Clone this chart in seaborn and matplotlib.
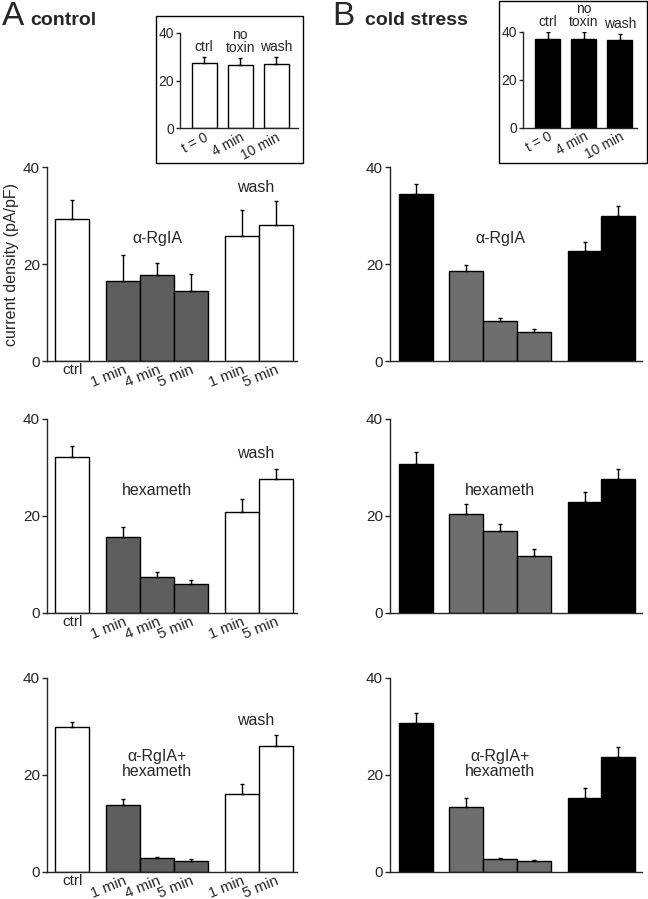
import matplotlib
matplotlib.use("Agg")
import matplotlib.pyplot as plt
from matplotlib.patches import Rectangle
import seaborn as sns
import pandas as pd
import numpy as np

# ---- data (current density, pA/pF; mean and upward SEM) ----
kinds = ["ctrl", "toxin", "toxin", "toxin", "wash", "wash"]
tick_labels = ["ctrl", "1 min", "4 min", "5 min", "1 min", "5 min"]

ctrl_rgia_mean = [29.4, 16.6, 17.7, 14.4, 25.8, 28.0]
ctrl_rgia_sem = [3.8, 5.3, 2.6, 3.5, 5.4, 5.0]
cold_rgia_mean = [34.5, 18.6, 8.2, 6.0, 22.8, 30.0]
cold_rgia_sem = [2.1, 1.3, 0.7, 0.7, 1.7, 2.0]

ctrl_hex_mean = [32.1, 15.7, 7.4, 5.9, 20.7, 27.6]
ctrl_hex_sem = [2.4, 2.0, 0.9, 0.9, 2.8, 2.0]
cold_hex_mean = [30.6, 20.3, 16.9, 11.8, 22.8, 27.7]
cold_hex_sem = [2.5, 2.1, 1.4, 1.4, 2.1, 2.0]

ctrl_both_mean = [29.9, 13.8, 2.8, 2.2, 16.0, 26.0]
ctrl_both_sem = [0.9, 1.2, 0.2, 0.5, 2.0, 2.3]
cold_both_mean = [30.6, 13.3, 2.6, 2.1, 15.2, 23.7]
cold_both_sem = [2.2, 1.9, 0.2, 0.3, 2.1, 2.0]

inset_top_labels = ["ctrl", "no\ntoxin", "wash"]
inset_tick_labels = ["t = 0", "4 min", "10 min"]
inset_ctrl_mean = [27.2, 26.5, 26.8]
inset_ctrl_sem = [2.8, 2.8, 3.2]
inset_cold_mean = [37.1, 37.0, 36.5]
inset_cold_sem = [2.6, 2.7, 2.4]

# ---- layout ----
BAR_POS = [0, 1.5, 2.5, 3.5, 5, 6]
INSET_POS = [0, 1, 2]

sns.set_style("ticks")
plt.rcParams["font.family"] = ["Liberation Sans", "DejaVu Sans"]
plt.rcParams["axes.linewidth"] = 1.0

fig = plt.figure(figsize=(6.48, 8.99), dpi=100)


def style_axes(ax, ymax=40, fs=11):
    sns.despine(ax=ax)
    ax.set_ylim(0, ymax)
    ax.set_yticks([0, 20, 40])
    ax.tick_params(axis="y", length=3.5, width=1, labelsize=fs, pad=1.5)
    ax.tick_params(axis="x", length=0, labelsize=fs, pad=1.5)
    ax.set_xlabel("")
    ax.set_ylabel("")


def draw_bars(ax, pos, means, sems, kind, palette, width=1.0):
    df = pd.DataFrame({"pos": pos, "value": means, "kind": kind})
    sns.barplot(data=df, x="pos", y="value", hue="kind", palette=palette,
                native_scale=True, width=width, dodge=False, errorbar=None,
                edgecolor="black", linewidth=1.0, legend=False, ax=ax)
    ax.errorbar(pos, means, yerr=[np.zeros(len(sems)), sems], fmt="none",
                ecolor="black", elinewidth=1.0, capsize=1.6, capthick=1.0)


pal_ctrl = {"ctrl": "white", "toxin": "#5e5e5e", "wash": "white"}
pal_cold = {"ctrl": "black", "toxin": "#6e6e6e", "wash": "black"}

rows = [
    (0.5984, ctrl_rgia_mean, ctrl_rgia_sem, cold_rgia_mean, cold_rgia_sem,
     "α-RgIA", 25.4, 35.9),
    (0.3185, ctrl_hex_mean, ctrl_hex_sem, cold_hex_mean, cold_hex_sem,
     "hexameth", 25.3, 32.8),
    (0.0304, ctrl_both_mean, ctrl_both_sem, cold_both_mean, cold_both_sem,
     "α-RgIA+\nhexameth", 22.3, 31.2),
]

for i, (bottom, am, asem, bm, bsem, label, ly, wy) in enumerate(rows):
    axA = fig.add_axes([0.0725, bottom, 0.3855, 0.2155])
    draw_bars(axA, BAR_POS, am, asem, kinds, pal_ctrl)
    style_axes(axA)
    axA.set_xlim(-0.74, 6.62)
    axA.set_xticks(BAR_POS)
    axA.set_xticklabels(tick_labels)
    for j, t in enumerate(axA.get_xticklabels()):
        if j == 0:
            t.set_rotation(0)
            t.set_ha("center")
        else:
            t.set_rotation(22)
            t.set_ha("right")
            t.set_va("top")
            t.set_rotation_mode("anchor")
    axA.text(2.5, ly, label, ha="center", va="center", fontsize=11.5,
             linespacing=1.0)
    axA.text(5.4, wy, "wash", ha="center", va="center", fontsize=11.5)
    if i == 0:
        axA.set_ylabel("current density (pA/pF)", fontsize=11.5, labelpad=3)

    axB = fig.add_axes([0.6019, bottom, 0.3888, 0.2155])
    draw_bars(axB, BAR_POS, bm, bsem, kinds, pal_cold)
    style_axes(axB)
    axB.set_xlim(-0.76, 6.7)
    axB.set_xticks([])
    axB.text(2.5, ly, label, ha="center", va="center", fontsize=11.5,
             linespacing=1.0)

# ---- insets ----
insets = [
    ([0.2778, 0.8573, 0.1816, 0.1063], (0.2403, 0.819, 0.2277, 0.1635),
     inset_ctrl_mean, inset_ctrl_sem, "white", (-0.67, 2.6)),
    ([0.8076, 0.858, 0.175, 0.1067], (0.770, 0.819, 0.2285, 0.1795),
     inset_cold_mean, inset_cold_sem, "black", (-0.68, 2.47)),
]
for rect, box, means, sems, col, xl in insets:
    fig.patches.append(Rectangle((box[0], box[1]), box[2], box[3],
                                 transform=fig.transFigure, fill=False,
                                 edgecolor="black", linewidth=1.0))
    ax = fig.add_axes(rect)
    draw_bars(ax, INSET_POS, means, sems, ["c"] * 3, {"c": col}, width=0.7)
    style_axes(ax, fs=10)
    ax.tick_params(axis="y", length=3)
    ax.set_xlim(*xl)
    ax.set_xticks(INSET_POS)
    ax.set_xticklabels(inset_tick_labels, rotation=28, ha="right", va="top",
                       rotation_mode="anchor")
    for x, m, s, lab in zip(INSET_POS, means, sems, inset_top_labels):
        ax.text(x, m + s + 1.3, lab, ha="center", va="bottom", fontsize=10,
                linespacing=0.95, clip_on=False)

# ---- panel titles ----
fig.text(0.003, 0.972, "A", fontsize=24, va="baseline")
fig.text(0.046, 0.972, "control", fontsize=14, fontweight="bold",
         va="baseline")
fig.text(0.512, 0.972, "B", fontsize=24, va="baseline")
fig.text(0.563, 0.972, "cold stress", fontsize=14, fontweight="bold",
         va="baseline")

fig.savefig("out.png", dpi=100)
